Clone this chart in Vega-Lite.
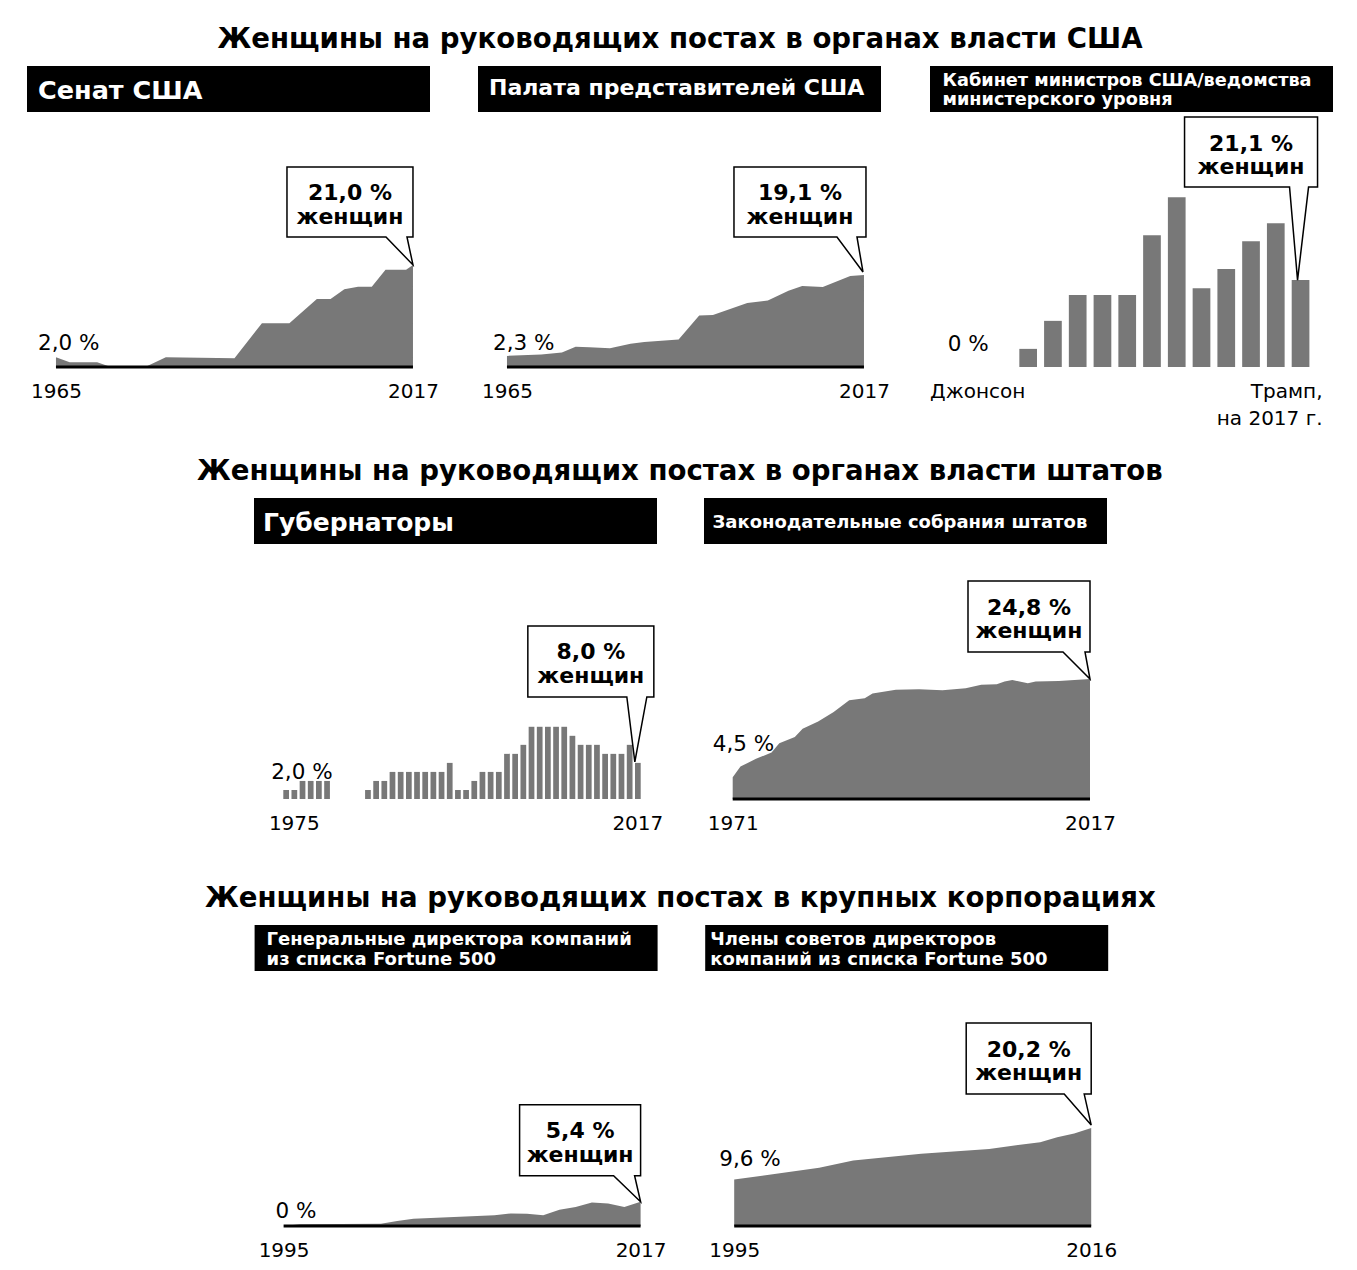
{
  "$schema": "https://vega.github.io/schema/vega-lite/v6.json",
  "background": "white",
  "padding": {"left": 27, "top": 26, "right": 5, "bottom": 5},
  "config": {
    "font": "DejaVu Sans",
    "view": {"stroke": null},
    "title": {"font": "DejaVu Sans", "fontSize": 27.6, "fontWeight": "bold", "color": "black", "anchor": "middle", "offset": 12},
    "axis": {"domain": false, "ticks": false, "grid": false, "labelFontSize": 20, "labelPadding": 14, "labelColor": "black", "labelFont": "DejaVu Sans", "labelFlush": false, "labelOverlap": false, "labelBound": false, "labelAngle": 0}
  },
  "datasets": {
    "senate": [
      {"year": 1965, "pct": 2.0}, {"year": 1967, "pct": 1.0}, {"year": 1971, "pct": 1.0}, {"year": 1973, "pct": 0},
      {"year": 1978, "pct": 0}, {"year": 1981, "pct": 2.0}, {"year": 1991, "pct": 1.8}, {"year": 1995, "pct": 9.0},
      {"year": 1999, "pct": 9.0}, {"year": 2003, "pct": 14.0}, {"year": 2005, "pct": 14.0}, {"year": 2007, "pct": 16.0},
      {"year": 2009, "pct": 16.5}, {"year": 2011, "pct": 16.5}, {"year": 2013, "pct": 20.0}, {"year": 2016, "pct": 20.0},
      {"year": 2017, "pct": 21.0}
    ],
    "house": [
      {"year": 1965, "pct": 2.3}, {"year": 1970, "pct": 2.6}, {"year": 1973, "pct": 3.0}, {"year": 1975, "pct": 4.2},
      {"year": 1977, "pct": 4.1}, {"year": 1980, "pct": 3.9}, {"year": 1983, "pct": 4.8}, {"year": 1985, "pct": 5.2},
      {"year": 1990, "pct": 5.7}, {"year": 1993, "pct": 10.7}, {"year": 1995, "pct": 10.8}, {"year": 2000, "pct": 13.3},
      {"year": 2003, "pct": 13.8}, {"year": 2006, "pct": 15.8}, {"year": 2008, "pct": 16.8}, {"year": 2011, "pct": 16.6},
      {"year": 2015, "pct": 18.9}, {"year": 2017, "pct": 19.1}
    ],
    "cabinet": [
      {"name": "Джонсон", "pct": 0}, {"name": "Никсон", "pct": 0}, {"name": "Форд", "pct": 4.4},
      {"name": "Картер", "pct": 11.2}, {"name": "Рейган I", "pct": 17.5}, {"name": "Рейган II", "pct": 17.5},
      {"name": "Буш", "pct": 17.5}, {"name": "Клинтон I", "pct": 32.0}, {"name": "Клинтон II", "pct": 41.2},
      {"name": "Буш-мл. I", "pct": 19.1}, {"name": "Буш-мл. II", "pct": 23.8}, {"name": "Обама I", "pct": 30.5},
      {"name": "Обама II", "pct": 34.9}, {"name": "Трамп", "pct": 21.1}
    ],
    "cabbase": [{"from": "Джонсон", "to": "Трамп"}],
    "govs": [
      {"year": 1974, "pct": 2}, {"year": 1975, "pct": 2}, {"year": 1976, "pct": 4}, {"year": 1977, "pct": 4},
      {"year": 1978, "pct": 4}, {"year": 1979, "pct": 4}, {"year": 1980, "pct": 0}, {"year": 1981, "pct": 0},
      {"year": 1982, "pct": 0}, {"year": 1983, "pct": 0}, {"year": 1984, "pct": 2}, {"year": 1985, "pct": 4},
      {"year": 1986, "pct": 4}, {"year": 1987, "pct": 6}, {"year": 1988, "pct": 6}, {"year": 1989, "pct": 6},
      {"year": 1990, "pct": 6}, {"year": 1991, "pct": 6}, {"year": 1992, "pct": 6}, {"year": 1993, "pct": 6},
      {"year": 1994, "pct": 8}, {"year": 1995, "pct": 2}, {"year": 1996, "pct": 2}, {"year": 1997, "pct": 4},
      {"year": 1998, "pct": 6}, {"year": 1999, "pct": 6}, {"year": 2000, "pct": 6}, {"year": 2001, "pct": 10},
      {"year": 2002, "pct": 10}, {"year": 2003, "pct": 12}, {"year": 2004, "pct": 16}, {"year": 2005, "pct": 16},
      {"year": 2006, "pct": 16}, {"year": 2007, "pct": 16}, {"year": 2008, "pct": 16}, {"year": 2009, "pct": 14},
      {"year": 2010, "pct": 12}, {"year": 2011, "pct": 12}, {"year": 2012, "pct": 12}, {"year": 2013, "pct": 10},
      {"year": 2014, "pct": 10}, {"year": 2015, "pct": 10}, {"year": 2016, "pct": 12}, {"year": 2017, "pct": 8}
    ],
    "govbase": [{"from": 1974, "to": 2017}],
    "legis": [
      {"year": 1971, "pct": 4.5}, {"year": 1972, "pct": 6.7}, {"year": 1974, "pct": 8.3}, {"year": 1976, "pct": 9.6},
      {"year": 1977, "pct": 11.5}, {"year": 1979, "pct": 12.8}, {"year": 1980, "pct": 14.5}, {"year": 1982, "pct": 16.0},
      {"year": 1984, "pct": 18.0}, {"year": 1986, "pct": 20.4}, {"year": 1988, "pct": 20.8}, {"year": 1989, "pct": 21.8},
      {"year": 1992, "pct": 22.6}, {"year": 1995, "pct": 22.7}, {"year": 1998, "pct": 22.5}, {"year": 2001, "pct": 22.9},
      {"year": 2003, "pct": 23.6}, {"year": 2005, "pct": 23.7}, {"year": 2006, "pct": 24.3}, {"year": 2007, "pct": 24.6},
      {"year": 2009, "pct": 23.9}, {"year": 2010, "pct": 24.3}, {"year": 2013, "pct": 24.4}, {"year": 2017, "pct": 24.8}
    ],
    "ceo": [
      {"year": 1995, "pct": 0}, {"year": 1996, "pct": 0.4}, {"year": 2001, "pct": 0.5}, {"year": 2002, "pct": 1.1},
      {"year": 2003, "pct": 1.6}, {"year": 2008, "pct": 2.4}, {"year": 2009, "pct": 2.8}, {"year": 2010, "pct": 2.7},
      {"year": 2011, "pct": 2.4}, {"year": 2012, "pct": 3.6}, {"year": 2013, "pct": 4.2}, {"year": 2014, "pct": 5.2},
      {"year": 2015, "pct": 5.0}, {"year": 2016, "pct": 4.2}, {"year": 2017, "pct": 5.4}
    ],
    "boards": [
      {"year": 1995, "pct": 9.6}, {"year": 2000, "pct": 12.0}, {"year": 2002, "pct": 13.5}, {"year": 2006, "pct": 14.9},
      {"year": 2010, "pct": 15.9}, {"year": 2013, "pct": 17.3}, {"year": 2014, "pct": 18.3}, {"year": 2015, "pct": 19.1},
      {"year": 2016, "pct": 20.2}
    ]
  },
  "vconcat": [
    {
      "title": {"text": "Женщины на руководящих постах в органах власти США"},
      "spacing": 39,
      "hconcat": [
        {
          "spacing": 0,
          "vconcat": [
            {
              "width": 403, "height": 46,
              "view": {"fill": "black", "stroke": null},
              "data": {"values": [{"t": "Сенат США"}]},
              "mark": {"type": "text", "color": "white", "fontWeight": "bold", "fontSize": 25.5, "align": "left", "baseline": "top", "dx": 11, "dy": -9.7},
              "encoding": {"text": {"field": "t"}, "x": {"datum": 0, "type": "quantitative", "scale": {"domain": [0, 1]}, "axis": null}}
            },
            {
              "width": 403, "height": 255,
              "data": {"name": "senate"},
              "encoding": {
                "x": {"field": "year", "type": "quantitative", "title": null, "scale": {"domain": [1960.78, 2019.48], "nice": false, "zero": false}, "axis": {"values": [1965, 2017], "format": "d"}},
                "y": {"field": "pct", "type": "quantitative", "title": null, "scale": {"domain": [0, 52.47], "nice": false}, "axis": null}
              },
              "layer": [
                {"mark": {"type": "area", "color": "#787878", "opacity": 1}},
                {"mark": {"type": "line", "color": "black", "strokeWidth": 3}, "encoding": {"y": {"datum": 0}}},
                {"transform": [{"filter": "datum.year == 1965"}], "mark": {"type": "text", "text": "2,0 %", "align": "left", "baseline": "alphabetic", "dx": -18, "dy": -7, "fontSize": 21.5}},
                {"transform": [{"filter": "datum.year == 2017"}], "mark": {"type": "point", "shape": "M -126 -98 L 0 -98 L 0 -28 L -6 -28 L 0 0 L -27 -28 L -126 -28 Z", "size": 4, "filled": true, "fill": "white", "stroke": "black", "strokeWidth": 1.5, "opacity": 1}},
                {"transform": [{"filter": "datum.year == 2017"}], "mark": {"type": "text", "text": ["21,0 %", "женщин"], "fontWeight": "bold", "fontSize": 22, "lineHeight": 23.5, "align": "center", "baseline": "top", "dx": -63, "dy": -81.5}}
              ]
            }
          ]
        },
        {
          "spacing": 0,
          "vconcat": [
            {
              "width": 403, "height": 46,
              "view": {"fill": "black", "stroke": null},
              "data": {"values": [{"t": "Палата представителей США"}]},
              "mark": {"type": "text", "color": "white", "fontWeight": "bold", "fontSize": 22, "align": "left", "baseline": "top", "dx": 11, "dy": -11},
              "encoding": {"text": {"field": "t"}, "x": {"datum": 0, "type": "quantitative", "scale": {"domain": [0, 1]}, "axis": null}}
            },
            {
              "width": 403, "height": 255,
              "data": {"name": "house"},
              "encoding": {
                "x": {"field": "year", "type": "quantitative", "title": null, "scale": {"domain": [1960.78, 2019.48], "nice": false, "zero": false}, "axis": {"values": [1965, 2017], "format": "d"}},
                "y": {"field": "pct", "type": "quantitative", "title": null, "scale": {"domain": [0, 52.9], "nice": false}, "axis": null}
              },
              "layer": [
                {"mark": {"type": "area", "color": "#787878", "opacity": 1}},
                {"mark": {"type": "line", "color": "black", "strokeWidth": 3}, "encoding": {"y": {"datum": 0}}},
                {"transform": [{"filter": "datum.year == 1965"}], "mark": {"type": "text", "text": "2,3 %", "align": "left", "baseline": "alphabetic", "dx": -14, "dy": -6, "fontSize": 21.5}},
                {"transform": [{"filter": "datum.year == 2017"}], "mark": {"type": "point", "shape": "M -130 -108 L 2 -108 L 2 -38 L -7 -38 L -1 -3 L -27 -38 L -130 -38 Z", "size": 4, "filled": true, "fill": "white", "stroke": "black", "strokeWidth": 1.5, "opacity": 1}},
                {"transform": [{"filter": "datum.year == 2017"}], "mark": {"type": "text", "text": ["19,1 %", "женщин"], "fontWeight": "bold", "fontSize": 22, "lineHeight": 23.5, "align": "center", "baseline": "top", "dx": -64, "dy": -91.5}}
              ]
            }
          ]
        },
        {
          "spacing": 0,
          "vconcat": [
            {
              "width": 403, "height": 46,
              "view": {"fill": "black", "stroke": null},
              "data": {"values": [{"t": "Кабинет министров США/ведомства\nминистерского уровня"}]},
              "mark": {"type": "text", "color": "white", "fontWeight": "bold", "fontSize": 17.7, "lineHeight": 19, "lineBreak": "\n", "align": "left", "baseline": "top", "dx": 12.5, "dy": -17},
              "encoding": {"text": {"field": "t"}, "x": {"datum": 0, "type": "quantitative", "scale": {"domain": [0, 1]}, "axis": null}}
            },
            {
              "width": 403, "height": 255,
              "data": {"name": "cabinet"},
              "encoding": {
                "x": {"field": "name", "type": "ordinal", "title": null,
                  "scale": {"type": "band", "domain": ["Джонсон", "Никсон", "Форд", "Картер", "Рейган I", "Рейган II", "Буш", "Клинтон I", "Клинтон II", "Буш-мл. I", "Буш-мл. II", "Обама I", "Обама II", "Трамп"], "range": [39.8, 379.4], "paddingInner": 0.285, "paddingOuter": 0},
                  "axis": {"values": ["Джонсон", "Трамп"], "labelLineHeight": 27,
                    "labelExpr": "datum.value == 'Трамп' ? ['Трамп,', 'на 2017 г.'] : datum.label",
                    "labelAlign": {"condition": {"test": "datum.value == 'Трамп'", "value": "right"}, "value": "center"},
                    "labelOffset": {"condition": {"test": "datum.value == 'Трамп'", "value": 22}, "value": -1}}},
                "y": {"field": "pct", "type": "quantitative", "title": null, "scale": {"domain": [0, 61.9], "nice": false}, "axis": null}
              },
              "layer": [
                {"mark": {"type": "bar", "color": "#787878", "opacity": 1}},
                {"data": {"name": "cabbase"}, "mark": {"type": "rule", "color": "black", "strokeWidth": 3, "xOffset": -19.7, "x2Offset": 15.3},
                  "encoding": {"x": {"field": "from", "type": "ordinal", "title": null}, "x2": {"field": "to"}, "y": {"datum": 0}}},
                {"transform": [{"filter": "datum.name == 'Джонсон'"}], "mark": {"type": "text", "text": "0 %", "align": "left", "baseline": "alphabetic", "dx": -31, "dy": -16, "fontSize": 21.5}},
                {"transform": [{"filter": "datum.name == 'Трамп'"}], "mark": {"type": "point", "shape": "M -116 -163 L 17 -163 L 17 -93 L 8 -93 L -3 0 L -11 -93 L -116 -93 Z", "size": 4, "filled": true, "fill": "white", "stroke": "black", "strokeWidth": 1.5, "opacity": 1}},
                {"transform": [{"filter": "datum.name == 'Трамп'"}], "mark": {"type": "text", "text": ["21,1 %", "женщин"], "fontWeight": "bold", "fontSize": 22, "lineHeight": 23.5, "align": "center", "baseline": "top", "dx": -49.5, "dy": -146.5}}
              ]
            }
          ]
        }
      ]
    },
    {
      "title": {"text": "Женщины на руководящих постах в органах власти штатов"},
      "spacing": 41,
      "hconcat": [
        {"width": 186, "height": 357, "data": {"values": []}, "mark": "point"},
        {
          "spacing": 0,
          "vconcat": [
            {
              "width": 403, "height": 46,
              "view": {"fill": "black", "stroke": null},
              "data": {"values": [{"t": "Губернаторы"}]},
              "mark": {"type": "text", "color": "white", "fontWeight": "bold", "fontSize": 25, "align": "left", "baseline": "top", "dx": 9, "dy": -10},
              "encoding": {"text": {"field": "t"}, "x": {"datum": 0, "type": "quantitative", "scale": {"domain": [0, 1]}, "axis": null}}
            },
            {
              "width": 403, "height": 255,
              "data": {"name": "govs"},
              "encoding": {
                "x": {"field": "year", "type": "ordinal", "title": null, "scale": {"type": "band", "range": [29.3, 386.7], "paddingInner": 0.3, "paddingOuter": 0}, "axis": {"values": [1975, 2017]}},
                "y": {"field": "pct", "type": "quantitative", "title": null, "scale": {"domain": [0, 56.5], "nice": false}, "axis": null}
              },
              "layer": [
                {"mark": {"type": "bar", "color": "#787878", "opacity": 1}},
                {"data": {"name": "govbase"}, "mark": {"type": "rule", "color": "black", "strokeWidth": 3, "xOffset": -2.9, "x2Offset": 2.9},
                  "encoding": {"x": {"field": "from", "type": "ordinal", "title": null}, "x2": {"field": "to"}, "y": {"datum": 0}}},
                {"transform": [{"filter": "datum.year == 1974"}], "mark": {"type": "text", "text": "2,0 %", "align": "left", "baseline": "alphabetic", "dx": -15, "dy": -11, "fontSize": 21.5}},
                {"transform": [{"filter": "datum.year == 2017"}], "mark": {"type": "point", "shape": "M -110 -137 L 16 -137 L 16 -66 L 9 -66 L -3 -1 L -11 -66 L -110 -66 Z", "size": 4, "filled": true, "fill": "white", "stroke": "black", "strokeWidth": 1.5, "opacity": 1}},
                {"transform": [{"filter": "datum.year == 2017"}], "mark": {"type": "text", "text": ["8,0 %", "женщин"], "fontWeight": "bold", "fontSize": 22, "lineHeight": 23.5, "align": "center", "baseline": "top", "dx": -47, "dy": -120.5}}
              ]
            }
          ]
        },
        {
          "spacing": 0,
          "vconcat": [
            {
              "width": 403, "height": 46,
              "view": {"fill": "black", "stroke": null},
              "data": {"values": [{"t": "Законодательные собрания штатов"}]},
              "mark": {"type": "text", "color": "white", "fontWeight": "bold", "fontSize": 18, "align": "left", "baseline": "top", "dx": 8.5, "dy": -6.7},
              "encoding": {"text": {"field": "t"}, "x": {"datum": 0, "type": "quantitative", "scale": {"domain": [0, 1]}, "axis": null}}
            },
            {
              "width": 403, "height": 255,
              "data": {"name": "legis"},
              "encoding": {
                "x": {"field": "year", "type": "quantitative", "title": null, "scale": {"domain": [1967.305, 2019.189], "nice": false, "zero": false}, "axis": {"values": [1971, 2017], "format": "d"}},
                "y": {"field": "pct", "type": "quantitative", "title": null, "scale": {"domain": [0, 52.7], "nice": false}, "axis": null}
              },
              "layer": [
                {"mark": {"type": "area", "color": "#787878", "opacity": 1}},
                {"mark": {"type": "line", "color": "black", "strokeWidth": 3}, "encoding": {"y": {"datum": 0}}},
                {"transform": [{"filter": "datum.year == 1971"}], "mark": {"type": "text", "text": "4,5 %", "align": "left", "baseline": "alphabetic", "dx": -20, "dy": -26.5, "fontSize": 21.5}},
                {"transform": [{"filter": "datum.year == 2017"}], "mark": {"type": "point", "shape": "M -122 -98 L 0 -98 L 0 -27 L -5 -27 L 0 0 L -27 -27 L -122 -27 Z", "size": 4, "filled": true, "fill": "white", "stroke": "black", "strokeWidth": 1.5, "opacity": 1}},
                {"transform": [{"filter": "datum.year == 2017"}], "mark": {"type": "text", "text": ["24,8 %", "женщин"], "fontWeight": "bold", "fontSize": 22, "lineHeight": 23.5, "align": "center", "baseline": "top", "dx": -61, "dy": -81.5}}
              ]
            }
          ]
        },
        {"width": 175.6, "height": 357, "data": {"values": []}, "mark": "point"}
      ]
    },
    {
      "title": {"text": "Женщины на руководящих постах в крупных корпорациях"},
      "spacing": 38.6,
      "hconcat": [
        {"width": 188.4, "height": 300, "data": {"values": []}, "mark": "point"},
        {
          "spacing": 0,
          "vconcat": [
            {
              "width": 403, "height": 46,
              "view": {"fill": "black", "stroke": null},
              "data": {"values": [{"t": "Генеральные директора компаний\nиз списка Fortune 500"}]},
              "mark": {"type": "text", "color": "white", "fontWeight": "bold", "fontSize": 18, "lineHeight": 20, "lineBreak": "\n", "align": "left", "baseline": "top", "dx": 12, "dy": -17},
              "encoding": {"text": {"field": "t"}, "x": {"datum": 0, "type": "quantitative", "scale": {"domain": [0, 1]}, "axis": null}}
            },
            {
              "width": 403, "height": 255,
              "data": {"name": "ceo"},
              "encoding": {
                "x": {"field": "year", "type": "quantitative", "title": null, "scale": {"domain": [1993.213, 2018.048], "nice": false, "zero": false}, "axis": {"values": [1995, 2017], "format": "d"}},
                "y": {"field": "pct", "type": "quantitative", "title": null, "scale": {"domain": [0, 56.7], "nice": false}, "axis": null}
              },
              "layer": [
                {"mark": {"type": "area", "color": "#787878", "opacity": 1}},
                {"mark": {"type": "line", "color": "black", "strokeWidth": 3}, "encoding": {"y": {"datum": 0}}},
                {"transform": [{"filter": "datum.year == 1995"}], "mark": {"type": "text", "text": "0 %", "align": "left", "baseline": "alphabetic", "dx": -8, "dy": -8.3, "fontSize": 21.5}},
                {"transform": [{"filter": "datum.year == 2017"}], "mark": {"type": "point", "shape": "M -121 -97 L 0 -97 L 0 -26 L -6 -26 L 0 0 L -27 -26 L -121 -26 Z", "size": 4, "filled": true, "fill": "white", "stroke": "black", "strokeWidth": 1.5, "opacity": 1}},
                {"transform": [{"filter": "datum.year == 2017"}], "mark": {"type": "text", "text": ["5,4 %", "женщин"], "fontWeight": "bold", "fontSize": 22, "lineHeight": 23.5, "align": "center", "baseline": "top", "dx": -60.5, "dy": -80.5}}
              ]
            }
          ]
        },
        {
          "spacing": 0,
          "vconcat": [
            {
              "width": 403, "height": 46,
              "view": {"fill": "black", "stroke": null},
              "data": {"values": [{"t": "Члены советов директоров\nкомпаний из списка Fortune 500"}]},
              "mark": {"type": "text", "color": "white", "fontWeight": "bold", "fontSize": 18, "lineHeight": 20.5, "lineBreak": "\n", "align": "left", "baseline": "top", "dx": 5, "dy": -17.5},
              "encoding": {"text": {"field": "t"}, "x": {"datum": 0, "type": "quantitative", "scale": {"domain": [0, 1]}, "axis": null}}
            },
            {
              "width": 403, "height": 255,
              "data": {"name": "boards"},
              "encoding": {
                "x": {"field": "year", "type": "quantitative", "title": null, "scale": {"domain": [1993.294, 2017], "nice": false, "zero": false}, "axis": {"values": [1995, 2016], "format": "d"}},
                "y": {"field": "pct", "type": "quantitative", "title": null, "scale": {"domain": [0, 52.6], "nice": false}, "axis": null}
              },
              "layer": [
                {"mark": {"type": "area", "color": "#787878", "opacity": 1}},
                {"mark": {"type": "line", "color": "black", "strokeWidth": 3}, "encoding": {"y": {"datum": 0}}},
                {"transform": [{"filter": "datum.year == 1995"}], "mark": {"type": "text", "text": "9,6 %", "align": "left", "baseline": "alphabetic", "dx": -15, "dy": -13.4, "fontSize": 21.5}},
                {"transform": [{"filter": "datum.year == 2016"}], "mark": {"type": "point", "shape": "M -125 -105 L 0 -105 L 0 -34 L -7 -34 L 0 -3 L -27 -34 L -125 -34 Z", "size": 4, "filled": true, "fill": "white", "stroke": "black", "strokeWidth": 1.5, "opacity": 1}},
                {"transform": [{"filter": "datum.year == 2016"}], "mark": {"type": "text", "text": ["20,2 %", "женщин"], "fontWeight": "bold", "fontSize": 22, "lineHeight": 23.5, "align": "center", "baseline": "top", "dx": -62.5, "dy": -88.5}}
              ]
            }
          ]
        },
        {"width": 178, "height": 300, "data": {"values": []}, "mark": "point"}
      ]
    }
  ],
  "spacing": 30
}
